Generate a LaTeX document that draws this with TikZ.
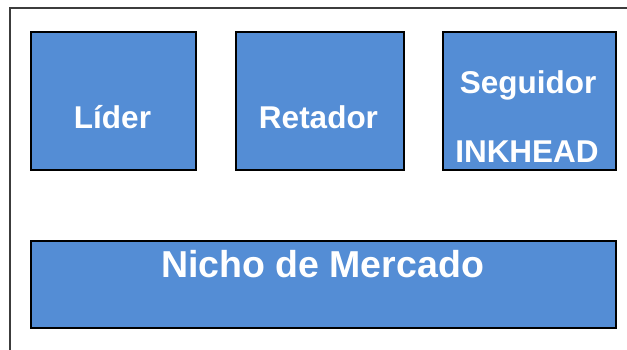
\documentclass[tikz,border=0pt]{standalone}
\usepackage{fontspec}
\setmainfont{Liberation Sans}
\definecolor{boxblue}{RGB}{84,141,213}
\definecolor{framegray}{RGB}{60,60,60}
\begin{document}
\begin{tikzpicture}[x=1pt,y=1pt,
  box/.style={draw=black,line width=2pt,fill=boxblue,inner sep=0pt,anchor=north west},
  lbl/.style={text=white,font=\bfseries\fontsize{31.5}{37}\selectfont,anchor=base,inner sep=0pt},
  biglbl/.style={text=white,font=\bfseries\fontsize{37.5}{44}\selectfont,anchor=base,inner sep=0pt}]
\useasboundingbox (0,0) rectangle (627,-349);
\clip (0,0) rectangle (627,-349);
\draw[framegray,line width=1.8pt] (10,-420) -- (10,-8) -- (700,-8);
\node[box,minimum width=165,minimum height=138] (lider) at (30,-31) {};
\node[box,minimum width=168,minimum height=138] (retador) at (235,-31) {};
\node[box,minimum width=173,minimum height=138] (seguidor) at (442,-31) {};
\node[box,minimum width=585,minimum height=87] (nicho) at (30,-240) {};
\node[lbl] (tlider) at (112.5,-128) {Líder};
\node[lbl] (tretador) at (318.5,-128) {Retador};
\node[lbl] (tseguidor) at (528,-93) {Seguidor};
\node[lbl] (tinkhead) at (527,-162) {INKHEAD};
\node[biglbl] (tnicho) at (322.5,-277.5) {Nicho de Mercado};
\end{tikzpicture}
\end{document}
